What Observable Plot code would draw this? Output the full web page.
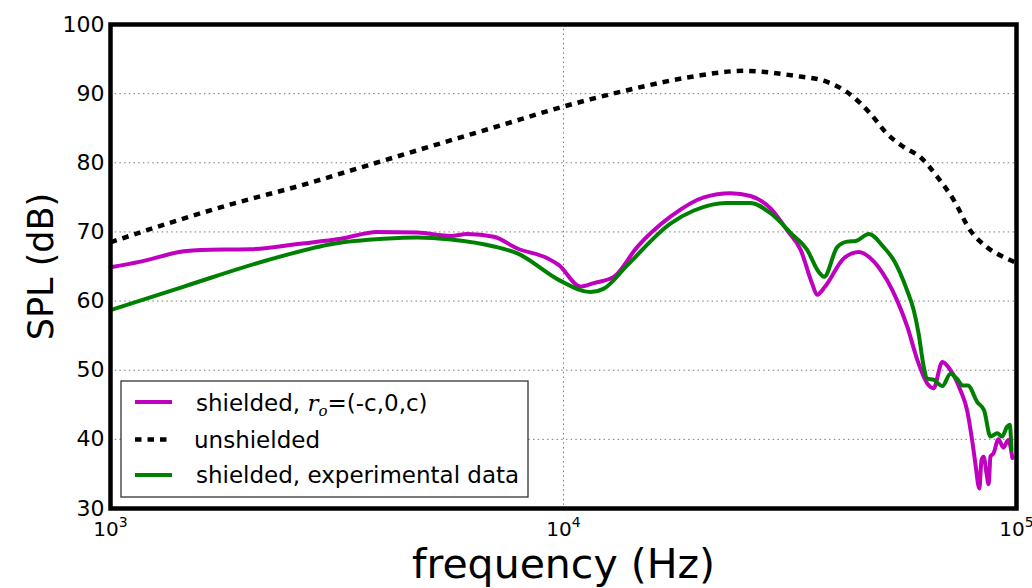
<!DOCTYPE html>
<html>
<head>
<meta charset="utf-8">
<script src="https://cdn.jsdelivr.net/npm/d3@7"></script>
<script src="https://cdn.jsdelivr.net/npm/@observablehq/plot@0.6"></script>
<style>
  html, body { margin: 0; padding: 0; background: #fff; }
  #chart svg { display: block; }
</style>
</head>
<body>
<div id="chart"></div>
<script>
// ---- data ----
const xTicks = [1e3, 1e4, 1e5];
const yTicks = [30, 40, 50, 60, 70, 80, 90, 100];

const unshieldedFreq = [1000, 1334, 1870, 2625, 3685, 5164, 7260, 9592, 13840, 19400, 25000, 32200, 38200, 42300, 47600, 51800, 56300, 61400, 66800, 72700, 79100, 86100, 97000, 100000];
const unshieldedSPL  = [68.5, 71.2, 74.1, 76.7, 79.6, 82.5, 85.4, 87.8, 90.5, 92.5, 93.3, 92.6, 91.7, 90.2, 87.1, 84.2, 82.3, 80.8, 78.0, 74.6, 70.2, 67.8, 65.9, 65.5];

const modelFreq = [1000, 1165, 1452, 1580, 2036, 2625, 3220, 3880, 4760, 5640, 6130, 7020, 7910, 9210, 9770, 10900, 11660, 12910, 14540, 17220, 20400, 23370, 25880, 28650, 31200, 33380, 35400, 36300, 37800, 41600, 44900, 47600, 51800, 54500, 57400, 60400, 63500, 65600, 68600, 71500, 75200, 77800, 79800, 81100, 82800, 83700, 84600, 85900, 86800, 87600, 89000, 91200, 93600, 95900, 97900];
const modelSPL  = [64.9, 65.7, 67.2, 67.4, 67.5, 68.3, 69.0, 70.0, 69.9, 69.4, 69.7, 69.3, 67.6, 66.2, 65.2, 62.1, 62.6, 63.5, 67.8, 72.2, 75.0, 75.6, 75.2, 73.4, 70.2, 67.4, 62.5, 60.9, 62.1, 66.2, 67.1, 66.2, 63.0, 60.1, 56.3, 51.5, 48.1, 47.4, 51.2, 50.0, 47.1, 44.2, 39.9, 36.6, 32.9, 37.0, 37.5, 35.0, 33.5, 37.5, 38.0, 40.0, 38.8, 39.9, 37.3];

const expFreq = [1000, 1452, 2218, 3110, 4010, 4760, 5640, 7020, 7910, 9800, 11480, 12280, 13840, 17220, 19400, 22900, 25880, 28650, 31800, 34500, 36600, 37600, 40200, 42300, 44200, 47200, 50900, 53600, 57300, 59300, 60800, 62400, 63500, 65700, 68600, 71500, 73800, 76100, 78100, 81900, 84800, 87600, 90700, 92900, 95300, 96600, 97500];
const expSPL  = [58.7, 62.1, 65.9, 68.3, 69.0, 69.2, 68.9, 67.9, 66.9, 63.0, 61.3, 61.8, 65.2, 71.2, 73.1, 74.2, 74.2, 72.7, 69.8, 67.4, 64.2, 63.5, 67.8, 68.6, 68.7, 69.7, 67.8, 65.9, 61.6, 58.7, 55.3, 50.5, 48.8, 48.6, 47.7, 49.5, 48.8, 47.8, 47.8, 45.4, 44.2, 40.4, 40.9, 40.4, 41.8, 42.1, 38.5];

const legendLabels = ["shielded, ", "unshielded", "shielded, experimental data"];
const seriesColors = ["#bf00bf", "#000000", "#008000"];

// ---- tables built from the arrays ----
const unshielded = unshieldedFreq.map((f, i) => ({f, spl: unshieldedSPL[i]}));
const model = modelFreq.map((f, i) => ({f, spl: modelSPL[i]}));
const experiment = expFreq.map((f, i) => ({f, spl: expSPL[i]}));

const font = "DejaVu Sans";

const chart = Plot.plot({
  width: 1032,
  height: 588,
  marginLeft: 110,
  marginRight: 16,
  marginTop: 24,
  marginBottom: 80,
  style: {fontFamily: font, background: "#fff", color: "#000", overflow: "visible"},
  x: {type: "log", domain: [1e3, 1e5]},
  y: {domain: [30, 100]},
  marks: [
    Plot.gridX(xTicks, {stroke: "#7a7a7a", strokeOpacity: 1, strokeWidth: 1, strokeDasharray: "1.5,3.2"}),
    Plot.gridY(yTicks, {stroke: "#7a7a7a", strokeOpacity: 1, strokeWidth: 1, strokeDasharray: "1.5,3.2"}),
    Plot.line(model, {x: "f", y: "spl", stroke: seriesColors[0], strokeWidth: 4, curve: "monotone-x"}),
    Plot.line(unshielded, {x: "f", y: "spl", stroke: seriesColors[1], strokeWidth: 4.5, strokeDasharray: "6.5,6", strokeLinecap: "butt", curve: "monotone-x"}),
    Plot.line(experiment, {x: "f", y: "spl", stroke: seriesColors[2], strokeWidth: 4, curve: "monotone-x"}),
    Plot.frame({stroke: "#000", strokeWidth: 4.5}),
    Plot.axisY(yTicks, {tickSize: 0, tickPadding: 6, fontSize: 22, label: null}),
    Plot.axisX(xTicks, {tickSize: 0, tickPadding: 13, fontSize: 20, label: null,
      tickFormat: d => "10^" + Math.round(Math.log10(d))}),
    Plot.text(["frequency (Hz)"], {frameAnchor: "bottom", textAnchor: "middle", dy: 56, fontSize: 41, lineAnchor: "middle", fill: "#000"}),
    Plot.text(["SPL (dB)"], {frameAnchor: "left", textAnchor: "middle", dx: -69, rotate: -90, fontSize: 35, lineAnchor: "middle", fill: "#000"})
  ]
});

document.getElementById("chart").appendChild(chart);

// superscript exponents on the x tick labels
const svg = d3.select(chart);
svg.selectAll("text").each(function () {
  const t = d3.select(this);
  const s = t.text();
  const m = /^10\^(\d+)$/.exec(s);
  if (m) {
    t.text("10");
    t.append("tspan").attr("dy", "-9").attr("font-size", 14).text(m[1]);
  }
});

// legend inside the plot area
const lg = svg.append("g").attr("font-family", font).attr("font-size", 23).attr("text-anchor", "start");
lg.append("rect").attr("x", 121).attr("y", 381).attr("width", 407).attr("height", 116)
  .attr("fill", "#fff").attr("stroke", "#333").attr("stroke-width", 1.3);
const rowY = [402, 439.5, 475];
const baseY = [410.5, 448, 482.5];
const textX = [196, 194, 196];
rowY.forEach((y, i) => {
  const line = lg.append("line").attr("x1", 135).attr("x2", 172).attr("y1", y).attr("y2", y)
    .attr("stroke", seriesColors[i]).attr("stroke-width", i === 1 ? 4.5 : 4);
  if (i === 1) line.attr("stroke-dasharray", "6.5,6");
  const txt = lg.append("text").attr("x", textX[i]).attr("y", baseY[i]).attr("fill", "#000")
    .attr("text-anchor", "start").text(legendLabels[i]);
  if (i === 0) {
    txt.append("tspan").attr("font-family", "DejaVu Serif").attr("font-style", "italic").text("r");
    txt.append("tspan").attr("font-family", "DejaVu Serif").attr("font-style", "italic")
      .attr("font-size", 15).attr("dy", 5).text("o");
    txt.append("tspan").attr("dy", -5).text("=(-c,0,c)");
  }
});
</script>
</body>
</html>
